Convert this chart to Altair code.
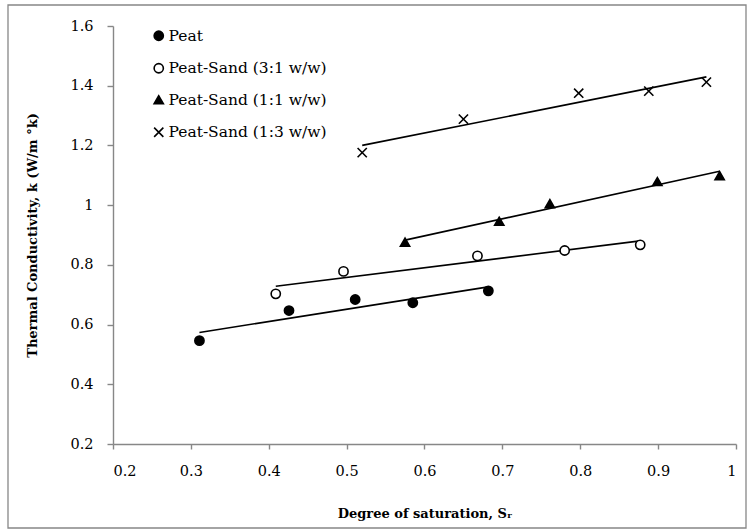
import altair as alt
import pandas as pd

# Degree of saturation (S_r) and thermal conductivity k (W/m °K) per mixture
sr_peat = [0.311, 0.426, 0.511, 0.585, 0.682]
k_peat = [0.546, 0.647, 0.684, 0.673, 0.713]

sr_ps31 = [0.409, 0.496, 0.668, 0.780, 0.877]
k_ps31 = [0.703, 0.778, 0.830, 0.848, 0.867]

sr_ps11 = [0.575, 0.696, 0.761, 0.899, 0.979]
k_ps11 = [0.876, 0.946, 1.005, 1.079, 1.099]

sr_ps13 = [0.520, 0.650, 0.798, 0.888, 0.962]
k_ps13 = [1.176, 1.288, 1.375, 1.382, 1.412]

series_names = [
    "Peat",
    "Peat-Sand (3:1 w/w)",
    "Peat-Sand (1:1 w/w)",
    "Peat-Sand (1:3 w/w)",
]
x_ticks = [0.2, 0.3, 0.4, 0.5, 0.6, 0.7, 0.8, 0.9, 1.0]
y_ticks = [0.2, 0.4, 0.6, 0.8, 1.0, 1.2, 1.4, 1.6]

rows = []
for name, xs, ys in zip(
    series_names,
    [sr_peat, sr_ps31, sr_ps11, sr_ps13],
    [k_peat, k_ps31, k_ps11, k_ps13],
):
    for xv, yv in zip(xs, ys):
        rows.append({"series": name, "sr": xv, "k": yv})
df = pd.DataFrame(rows)

FONT = "DejaVu Serif"
AXIS_GREY = "#878787"
W, H = 623, 418

cross_path = "M-1,-1L1,1M-1,1L1,-1"


def series_legend():
    # one shared legend for shape / fill / stroke / size, placed inside the plot
    return alt.Legend(
        title=None,
        orient="none",
        legendX=38,
        legendY=2,
        labelFont=FONT,
        labelFontSize=15.5,
        labelColor="black",
        labelOffset=2,
        symbolStrokeWidth=1.6,
        rowPadding=14.5,
        labelLimit=300,
    )


x_enc = alt.X(
    "sr:Q",
    scale=alt.Scale(domain=[0.2, 1.0], nice=False, zero=False),
    axis=alt.Axis(
        values=x_ticks,
        format="~g",
        title="Degree of saturation, Sᵣ",
        titleFont=FONT,
        titleFontSize=13,
        titleFontWeight="bold",
        titleColor="black",
        titlePadding=30,
        labelFont=FONT,
        labelFontSize=14.5,
        labelColor="black",
        labelPadding=15,
        domainColor=AXIS_GREY,
        domainWidth=1.4,
        tickColor=AXIS_GREY,
        tickWidth=1.4,
        tickSize=5,
        grid=False,
    ),
)
y_enc = alt.Y(
    "k:Q",
    scale=alt.Scale(domain=[0.2, 1.6], nice=False, zero=False),
    axis=alt.Axis(
        values=y_ticks,
        format="~g",
        title="Thermal Conductivity, k (W/m °k)",
        titleFont=FONT,
        titleFontSize=13,
        titleFontWeight="bold",
        titleColor="black",
        titlePadding=30,
        labelFont=FONT,
        labelFontSize=14.5,
        labelColor="black",
        labelPadding=14,
        domainColor=AXIS_GREY,
        domainWidth=1.4,
        tickColor=AXIS_GREY,
        tickWidth=1.4,
        tickSize=6,
        grid=False,
    ),
)

points = (
    alt.Chart(df)
    .mark_point(filled=False, strokeWidth=1.6, opacity=1)
    .encode(
        x=x_enc,
        y=y_enc,
        shape=alt.Shape(
            "series:N",
            scale=alt.Scale(
                domain=series_names,
                range=["circle", "circle", "triangle-up", cross_path],
            ),
            legend=series_legend(),
        ),
        fill=alt.Fill(
            "series:N",
            scale=alt.Scale(
                domain=series_names,
                range=["black", "white", "black", "black"],
            ),
            legend=series_legend(),
        ),
        stroke=alt.Stroke(
            "series:N",
            scale=alt.Scale(
                domain=series_names,
                range=["black", "black", "black", "black"],
            ),
            legend=series_legend(),
        ),
        size=alt.Size(
            "series:N",
            scale=alt.Scale(domain=series_names, range=[85, 85, 75, 80]),
            legend=series_legend(),
        ),
    )
)

trend = (
    alt.Chart(df)
    .transform_regression("sr", "k", groupby=["series"])
    .mark_line(color="black", strokeWidth=1.6)
    .encode(x="sr:Q", y="k:Q", detail="series:N")
)

frame = (
    alt.Chart(pd.DataFrame({"a": [0]}))
    .mark_rect(fill=None, stroke=AXIS_GREY, strokeWidth=1.3)
    .encode(
        x=alt.value(-105),
        x2=alt.value(W + 10),
        y=alt.value(-21),
        y2=alt.value(H + 84),
    )
)

chart = (
    alt.layer(frame, trend, points)
    .properties(
        width=W,
        height=H,
        autosize=alt.AutoSizeParams(type="none"),
        padding={"left": 113, "top": 26, "right": 18, "bottom": 88},
        background="white",
    )
    .configure_view(stroke=None)
)

chart.save("out.html", embed_options={"renderer": "svg", "actions": False})
